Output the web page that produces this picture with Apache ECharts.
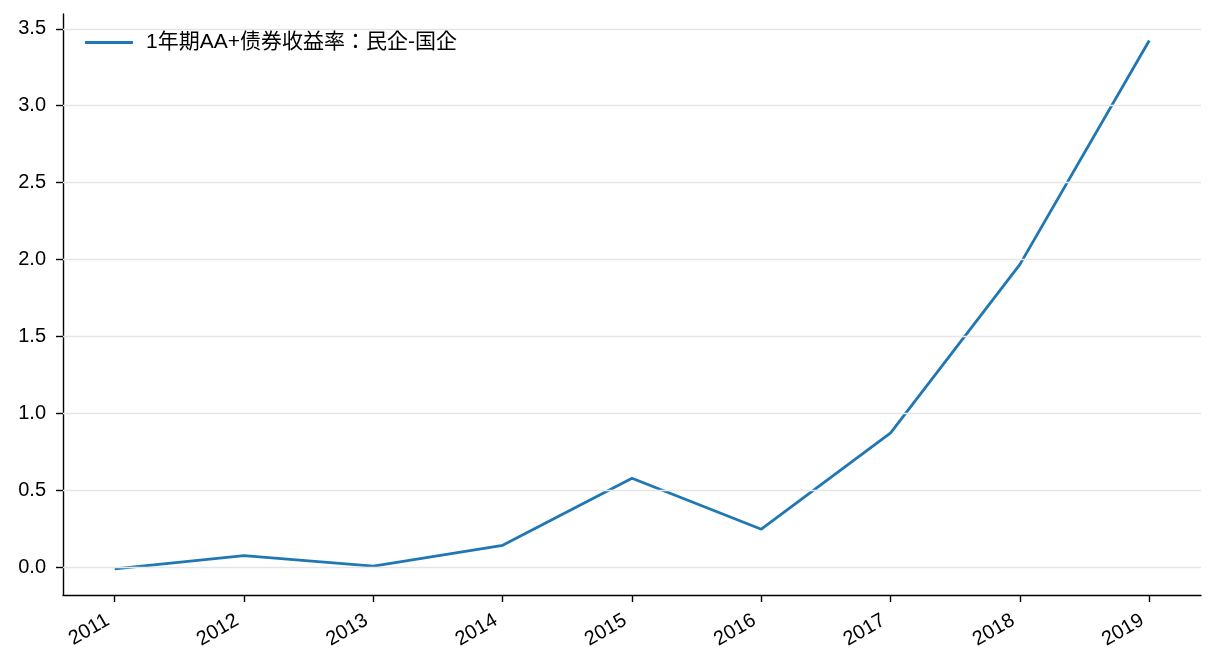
<!DOCTYPE html>
<html>
<head>
<meta charset="utf-8">
<script src="https://cdn.jsdelivr.net/npm/echarts@6/dist/echarts.min.js"></script>
<style>
  html, body { margin: 0; padding: 0; background: #fff; }
  #main { width: 1216px; height: 672px; }
</style>
</head>
<body>
<div id="main"></div>
<script>
// 数据
var years = [2011, 2012, 2013, 2014, 2015, 2016, 2017, 2018, 2019];
var spread = [-0.012, 0.074, 0.006, 0.141, 0.577, 0.246, 0.872, 1.968, 3.424];
var yTicks = [0, 0.5, 1, 1.5, 2, 2.5, 3, 3.5];
var seriesName = '1年期AA+债券收益率：民企-国企';

var font = 'Liberation Sans, Arial, Noto Sans CJK SC, sans-serif';
var legendFont = 'Liberation Sans, Arial, Noto Sans CJK JP, sans-serif';

echarts.init(document.getElementById('main')).setOption({
    animation: false,
    color: ['#1f77b4'],
    textStyle: { fontFamily: font },
    legend: {
        left: 80,
        top: 27,
        itemWidth: 48,
        itemGap: 10,
        icon: 'path://M0,0 L48,0 L48,3 L0,3 Z',
        textStyle: { fontSize: 21, color: '#000', fontFamily: legendFont, padding: [0, 0, 0, 8] },
        data: [seriesName]
    },
    grid: {
        left: 63,
        right: 15,
        top: 14,
        bottom: 77
    },
    xAxis: {
        type: 'value',
        min: 2010.6,
        max: 2019.4,
        axisLine: { onZero: false, lineStyle: { color: '#000', width: 1.4 } },
        axisTick: {
            customValues: years,
            length: 7,
            lineStyle: { color: '#000', width: 1.4 }
        },
        axisLabel: {
            customValues: years,
            rotate: 30,
            margin: 20,
            padding: [0, 8, 0, 0],
            fontSize: 20,
            color: '#000',
            fontFamily: font,
            formatter: function (v) { return String(v); }
        },
        splitLine: { show: false }
    },
    yAxis: {
        type: 'value',
        min: -0.182,
        max: 3.596,
        axisLine: { show: true, onZero: false, lineStyle: { color: '#000', width: 1.4 } },
        axisTick: {
            show: true,
            customValues: yTicks,
            length: 7,
            lineStyle: { color: '#000', width: 1.4 }
        },
        axisLabel: {
            customValues: yTicks,
            margin: 17,
            fontSize: 20,
            color: '#000',
            fontFamily: font,
            formatter: function (v) { return v.toFixed(1); }
        },
        splitLine: { show: false }
    },
    series: [
        {
            // 横向网格线
            type: 'line',
            data: [],
            silent: true,
            z: 1,
            markLine: {
                symbol: 'none',
                silent: true,
                label: { show: false },
                lineStyle: { color: '#e5e5e5', type: 'solid', width: 1.4 },
                data: yTicks.map(function (t) { return { yAxis: t }; })
            }
        },
        {
            name: seriesName,
            type: 'line',
            symbol: 'none',
            z: 3,
            lineStyle: { width: 2.8 },
            data: years.map(function (y, i) { return [y, spread[i]]; })
        }
    ]
});
</script>
</body>
</html>
